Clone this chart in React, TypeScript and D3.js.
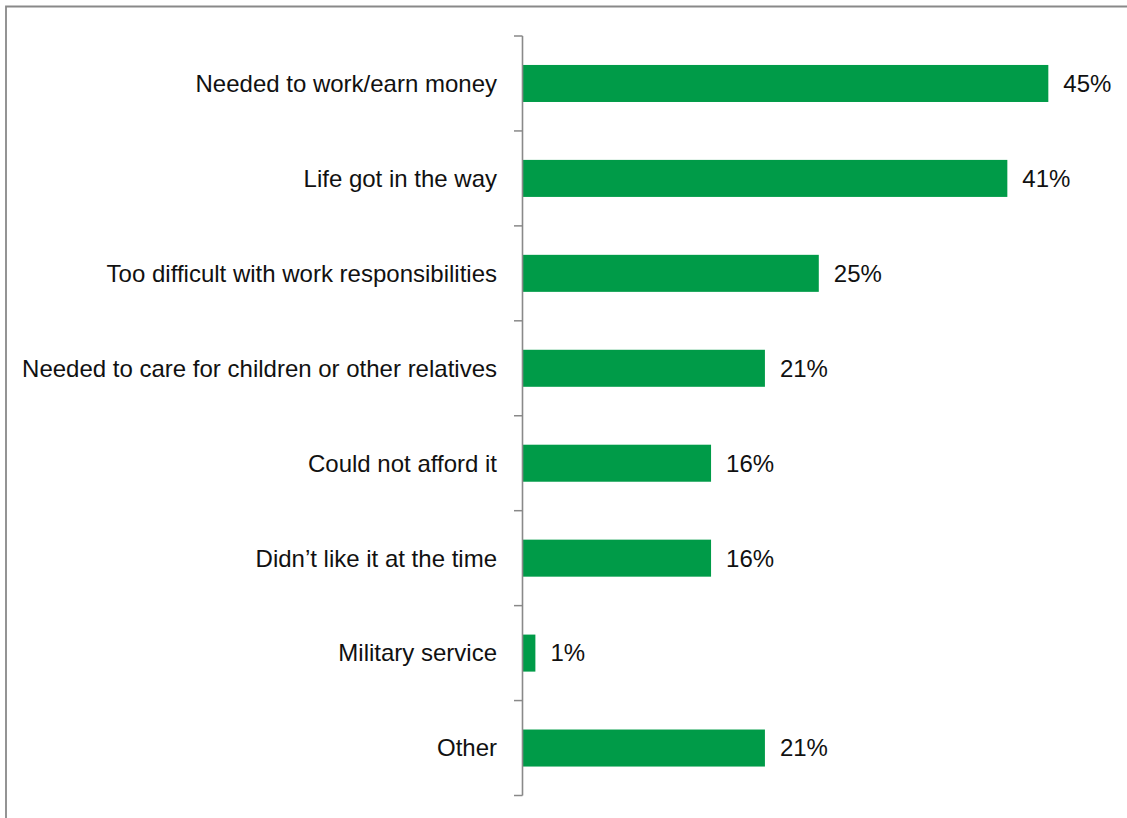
import React from "react";
import * as d3 from "d3";

const categories = [
  "Needed to work/earn money",
  "Life got in the way",
  "Too difficult with work responsibilities",
  "Needed to care for children or other relatives",
  "Could not afford it",
  "Didn\u2019t like it at the time",
  "Military service",
  "Other",
];
const values = [44.9, 41.4, 25.3, 20.7, 16.1, 16.1, 1.1, 20.7];
const valueLabels = ["45%", "41%", "25%", "21%", "16%", "16%", "1%", "21%"];

const W = 1127;
const H = 818;
const axisX = 522.5;
const top = 36;
const bottom = 795.5;
const FONT = "'Liberation Sans', Arial, sans-serif";

export default function App() {
  const y = d3
    .scaleBand<string>()
    .domain(categories)
    .range([top, bottom])
    .paddingInner(0.61)
    .paddingOuter(0.305);
  const x = d3.scaleLinear().domain([0, 45]).range([axisX, axisX + 527]);
  const boundaries = d3.range(categories.length + 1).map((i) => top + i * ((bottom - top) / categories.length));

  return (
    <svg
      width={W}
      height={H}
      style={{ position: "absolute", left: 0, top: 0, background: "#fff" }}
      fontFamily={FONT}
    >
      <path d={`M6,${H} L6,6.5 L${W},6.5`} fill="none" stroke="#898989" strokeWidth={1.8} />
      {categories.map((c, i) => {
        const by = y(c)!;
        const bh = y.bandwidth();
        const cy = by + bh / 2;
        return (
          <g key={c}>
            <rect x={x(0)} y={by} width={x(values[i]) - x(0)} height={bh} fill="#009B48" />
            <text x={497} y={cy} dy="0.35em" textAnchor="end" fontSize={24} fill="#111">
              {c}
            </text>
            <text x={x(values[i]) + 15} y={cy} dy="0.35em" fontSize={24} fill="#111">
              {valueLabels[i]}
            </text>
          </g>
        );
      })}
      <line x1={axisX} x2={axisX} y1={top} y2={bottom} stroke="#898989" strokeWidth={1.6} />
      {boundaries.map((b, i) => (
        <line key={i} x1={514} x2={axisX} y1={b} y2={b} stroke="#898989" strokeWidth={1.5} />
      ))}
    </svg>
  );
}
